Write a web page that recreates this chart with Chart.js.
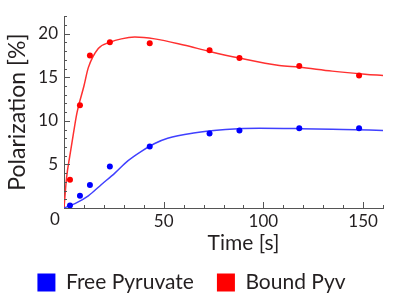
<!DOCTYPE html>
<html>
<head>
<meta charset="utf-8">
<script src="https://cdn.jsdelivr.net/npm/chart.js@4"></script>
<style>
  body { margin: 0; background: #fff; }
</style>
</head>
<body>
<canvas id="chart" width="400" height="303"></canvas>
<script>
// measured points
const timePts = [3, 8, 13, 23, 43, 73, 88, 118, 148];
const freePts = [0.3, 1.4, 2.65, 4.75, 7.05, 8.55, 8.9, 9.15, 9.15];
const boundPts = [3.25, 11.8, 17.5, 19.0, 18.9, 18.1, 17.2, 16.3, 15.2];

// fitted curves
const freeFitTime = [0, 5.5, 12.2, 18.8, 25.5, 32, 38.8, 45.5, 52, 65, 81, 98, 118, 140, 160];
const freeFit = [0, 0.5, 1.4, 2.7, 4.0, 5.4, 6.5, 7.4, 8.0, 8.6, 9.0, 9.15, 9.1, 9.0, 8.9];
const boundFitTime = [0, 1.3, 3, 4.7, 6.5, 10, 12.2, 17.2, 23, 28.8, 35.5, 45.5, 60, 73, 88, 108, 118, 134.5, 151, 160];
const boundFit = [0, 3.5, 6.1, 8.5, 10.9, 14.0, 16.1, 18.3, 19.0, 19.4, 19.6, 19.4, 18.7, 17.96, 17.2, 16.35, 16.15, 15.7, 15.35, 15.2];

const xMajor = [50, 100, 150];
const yMajor = [5, 10, 15, 20];

const toXY = (xs, ys) => xs.map((x, i) => ({ x: x, y: ys[i] }));

const textColor = '#231f20';
const axisColor = '#555';

// inward tick marks, shared "0" and the x title
const axisDecor = {
    id: 'axisDecor',
    afterDraw(chart) {
        const ctx = chart.ctx;
        const xs = chart.scales.x, ys = chart.scales.y;
        const x0 = xs.getPixelForValue(0), y0 = ys.getPixelForValue(0);
        ctx.save();
        ctx.strokeStyle = axisColor;
        ctx.lineWidth = 1;
        ctx.beginPath();
        for (let t = 10; t <= 160; t += 10) {
            const px = Math.round(xs.getPixelForValue(t)) + 0.5;
            const len = t % 50 === 0 ? 6 : 3;
            ctx.moveTo(px, y0);
            ctx.lineTo(px, y0 - len);
        }
        for (let v = 1; v <= 22; v++) {
            const py = Math.round(ys.getPixelForValue(v)) + 0.5;
            const len = v % 5 === 0 ? 6 : 3;
            ctx.moveTo(x0, py);
            ctx.lineTo(x0 + len, py);
        }
        ctx.stroke();

        ctx.fillStyle = textColor;
        ctx.textBaseline = 'middle';
        ctx.textAlign = 'center';
        ctx.font = '17px Lato';
        ctx.fillText('0', x0 - 9, y0 + 12);
        ctx.font = '21px Lato';
        ctx.fillText('Time [s]', xs.getPixelForValue(90), y0 + 35);
        ctx.restore();
    }
};

new Chart(document.getElementById('chart'), {
    type: 'scatter',
    data: {
        datasets: [
            {
                label: 'Free Pyruvate',
                data: toXY(timePts, freePts),
                backgroundColor: '#0000ff',
                borderColor: '#0000ff',
                pointRadius: 3,
                pointBorderWidth: 0
            },
            {
                label: 'Bound Pyv',
                data: toXY(timePts, boundPts),
                backgroundColor: '#ff0000',
                borderColor: '#ff0000',
                pointRadius: 3,
                pointBorderWidth: 0
            },
            {
                type: 'line',
                label: 'free fit',
                data: toXY(freeFitTime, freeFit),
                borderColor: '#4040ff',
                borderWidth: 1.5,
                pointRadius: 0,
                cubicInterpolationMode: 'monotone',
                fill: false
            },
            {
                type: 'line',
                label: 'bound fit',
                data: toXY(boundFitTime, boundFit),
                borderColor: '#ff3030',
                borderWidth: 1.5,
                pointRadius: 0,
                cubicInterpolationMode: 'monotone',
                fill: false
            }
        ]
    },
    options: {
        responsive: false,
        animation: false,
        layout: { padding: { left: 0, right: 17, top: 10, bottom: 0 } },
        plugins: {
            tooltip: { enabled: false },
            legend: {
                position: 'bottom',
                labels: {
                    filter: item => item.datasetIndex < 2,
                    boxWidth: 18,
                    boxHeight: 18,
                    padding: 23,
                    color: textColor,
                    font: { family: 'Lato', size: 21 }
                }
            }
        },
        scales: {
            x: {
                type: 'linear',
                min: 0,
                max: 160,
                grid: { drawOnChartArea: false, drawTicks: false },
                border: { color: axisColor },
                ticks: {
                    stepSize: 50,
                    padding: 3,
                    color: textColor,
                    font: { family: 'Lato', size: 17 }
                },
                afterBuildTicks: s => { s.ticks = xMajor.map(v => ({ value: v })); },
                afterFit: s => { s.height = 41; }
            },
            y: {
                min: 0,
                max: 22,
                grid: { drawOnChartArea: false, drawTicks: false },
                border: { color: axisColor },
                ticks: {
                    stepSize: 5,
                    padding: 6,
                    color: textColor,
                    font: { family: 'Lato', size: 17 }
                },
                afterBuildTicks: s => { s.ticks = yMajor.map(v => ({ value: v })); },
                title: {
                    display: true,
                    text: 'Polarization [%]',
                    color: textColor,
                    font: { family: 'Lato', size: 23 },
                    padding: { top: 4, bottom: 0 }
                },
                afterFit: s => { s.width = 64; }
            }
        }
    },
    plugins: [axisDecor]
});
</script>
</body>
</html>
